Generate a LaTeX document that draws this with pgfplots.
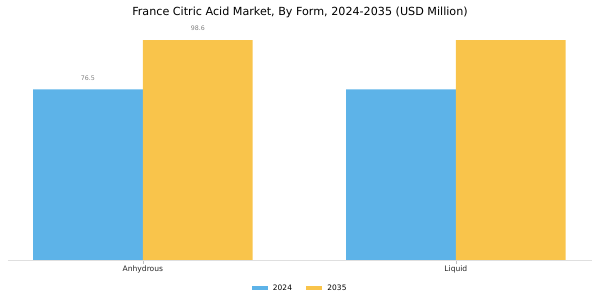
\documentclass[border=0pt]{standalone}
\usepackage{fontspec}
\setmainfont{DejaVu Sans}
\usepackage{pgfplots}
\pgfplotsset{compat=1.18}
\definecolor{cblue}{RGB}{93,179,232}
\definecolor{cyellow}{RGB}{249,196,75}
\begin{document}
\begin{tikzpicture}
\begin{axis}[
  scale only axis,
  width=584bp, height=230bp,
  xmin=-0.431, xmax=1.435, ymin=0, ymax=103.1,
  axis y line=none,
  axis x line*=bottom,
  x axis line style={draw=gray!25, line width=0.8pt},
  xtick={0,1}, xticklabels={Anhydrous,Liquid},
  major tick length=4bp,
  xtick style={draw=gray!50},
  ticklabel style={font=\fontsize{7.6}{9}\selectfont, text=black!85},
  xticklabel style={yshift=1.5bp},
  /pgf/number format/assume math mode=true,
  ybar=0pt, bar width=0.351,
  nodes near coords,
  point meta=explicit symbolic,
  every node near coord/.append style={font=\fontsize{6.3}{7}\selectfont, text=gray, anchor=south, yshift=9bp, inner sep=0pt},
  legend style={at={(0.5,-0.122)}, anchor=center, draw=none, legend columns=2,
    font=\fontsize{7.5}{9}\selectfont,
    /tikz/every odd column/.append style={column sep=3.5bp},
    /tikz/every even column/.append style={column sep=12bp}},
  legend image code/.code={\path[#1,draw=none] (0bp,-2.3bp) rectangle (16bp,2.3bp);},
  title={France Citric Acid Market, By Form, 2024-2035 (USD Million)},
  title style={font=\fontsize{11.2}{13}\selectfont, at={(0.5,1)}, anchor=center, yshift=12bp},
]
\addplot[fill=cblue, draw=none, bar shift=-0.1755] coordinates {(0,76.5) [76.5] (1,76.5) []};
\addplot[fill=cyellow, draw=none, bar shift=0.1755] coordinates {(0,98.6) [98.6] (1,98.6) []};
\legend{2024,2035}
\end{axis}
\pgfresetboundingbox
\path (-8bp,-40bp) rectangle (592bp,260bp);
\end{tikzpicture}
\end{document}
